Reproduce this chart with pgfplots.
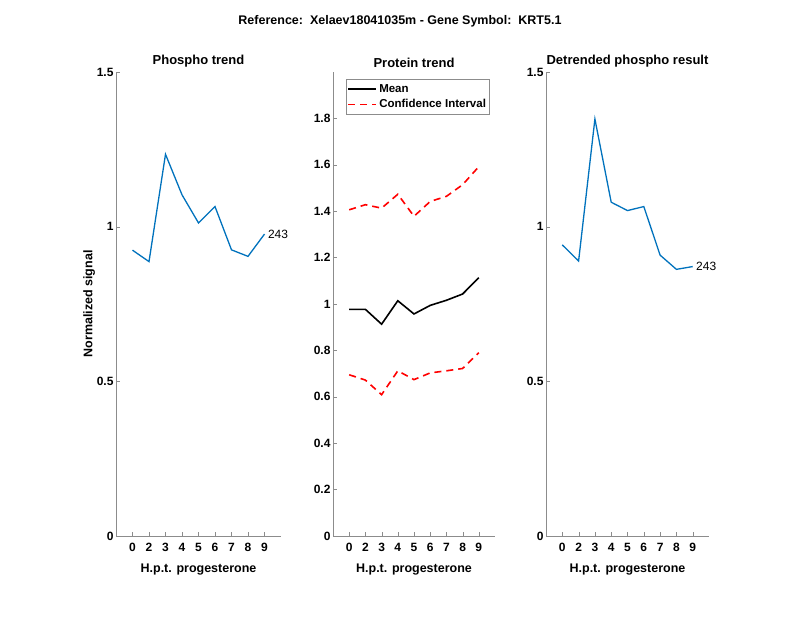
\documentclass[border=0pt]{standalone}
\usepackage{pgfplots}
\pgfplotsset{compat=1.18}
\usepackage{fontspec}
\setmainfont{Liberation Sans}

\definecolor{mblue}{RGB}{0,114,189}
\definecolor{axgray}{RGB}{140,140,140}

\pgfplotsset{
  mstyle/.style={
    scale only axis,
    axis lines=left,
    axis line style={-,axgray},
    tick style={axgray},
    tick align=inside,
    major tick length=4pt,
    xmin=0, xmax=10,
    xtick={1,...,9},
    xticklabels={0,2,3,4,5,6,7,8,9},
    /pgf/number format/assume math mode=true,
    tick label style={font=\bfseries\fontsize{12}{14}\selectfont},
    xticklabel style={yshift=-4pt},
    yticklabel style={xshift=1pt},
    title style={font=\bfseries\fontsize{13}{15}\selectfont, yshift=-5pt},
    label style={font=\bfseries\fontsize{12.5}{15}\selectfont},
    xlabel={H.p.t. progesterone},
    xlabel style={yshift=-5pt},
    clip=false,
  },
}

\begin{document}
\begin{tikzpicture}[x=1pt,y=1pt]
\path[fill=white,use as bounding box] (0,0) rectangle (800,618);
\node[font=\bfseries\fontsize{12.5}{15}\selectfont] at (400,597) {Reference:\ \ Xelaev18041035m - Gene Symbol:\ \ KRT5.1};

% Left: phospho trend
\begin{axis}[mstyle,
  at={(116pt,82pt)}, anchor=south west,
  width=165pt, height=464pt,
  ymin=0, ymax=1.5, ytick={0,0.5,1,1.5},
  title={Phospho trend},
  ylabel={Normalized signal},
  ylabel style={yshift=-5pt},
]
\addplot[mblue, line width=1.3pt] coordinates {
  (1,0.924) (2,0.887) (3,1.234) (4,1.103) (5,1.012) (6,1.065) (7,0.925) (8,0.904) (9,0.976)
};
\node[anchor=west, font=\fontsize{12}{14}\selectfont] at (axis cs:9,0.976) {243};
\end{axis}

% Middle: protein trend
\begin{axis}[mstyle,
  at={(333pt,82pt)}, anchor=south west,
  width=162pt, height=464pt,
  ymin=0, ymax=2, ytick={0,0.2,...,1.8},
  title={Protein trend},
  legend style={at={(0.08,0.985)}, anchor=north west, draw=axgray,
    font=\bfseries\fontsize{11.5}{13}\selectfont, cells={anchor=west},
    inner xsep=1.5pt, inner ysep=3pt, row sep=2pt},
  legend image code/.code={\draw[#1] plot coordinates {(0pt,0pt) (14pt,0pt) (28pt,0pt)};},
  legend image post style={line width=1.6pt},
]
\addplot[black, line width=1.6pt] coordinates {
  (1,0.977) (2,0.977) (3,0.913) (4,1.014) (5,0.957) (6,0.994) (7,1.016) (8,1.043) (9,1.113)
};
\addlegendentry{Mean}
\addplot[red, line width=1.6pt, dash pattern=on 7pt off 5pt] coordinates {
  (1,1.406) (2,1.428) (3,1.413) (4,1.473) (5,1.378) (6,1.442) (7,1.464) (8,1.514) (9,1.592)
};
\addlegendentry{Confidence Interval}
\addplot[red, line width=1.6pt, dash pattern=on 7pt off 5pt, forget plot] coordinates {
  (1,0.695) (2,0.672) (3,0.609) (4,0.712) (5,0.674) (6,0.703) (7,0.712) (8,0.722) (9,0.790)
};
\end{axis}

% Right: detrended phospho
\begin{axis}[mstyle,
  at={(546pt,82pt)}, anchor=south west,
  width=163pt, height=464pt,
  ymin=0, ymax=1.5, ytick={0,0.5,1,1.5},
  title={Detrended phospho result},
]
\addplot[mblue, line width=1.3pt] coordinates {
  (1,0.941) (2,0.889) (3,1.348) (4,1.079) (5,1.052) (6,1.065) (7,0.908) (8,0.862) (9,0.871)
};
\node[anchor=west, font=\fontsize{12}{14}\selectfont] at (axis cs:9,0.871) {243};
\end{axis}
\end{tikzpicture}
\end{document}
